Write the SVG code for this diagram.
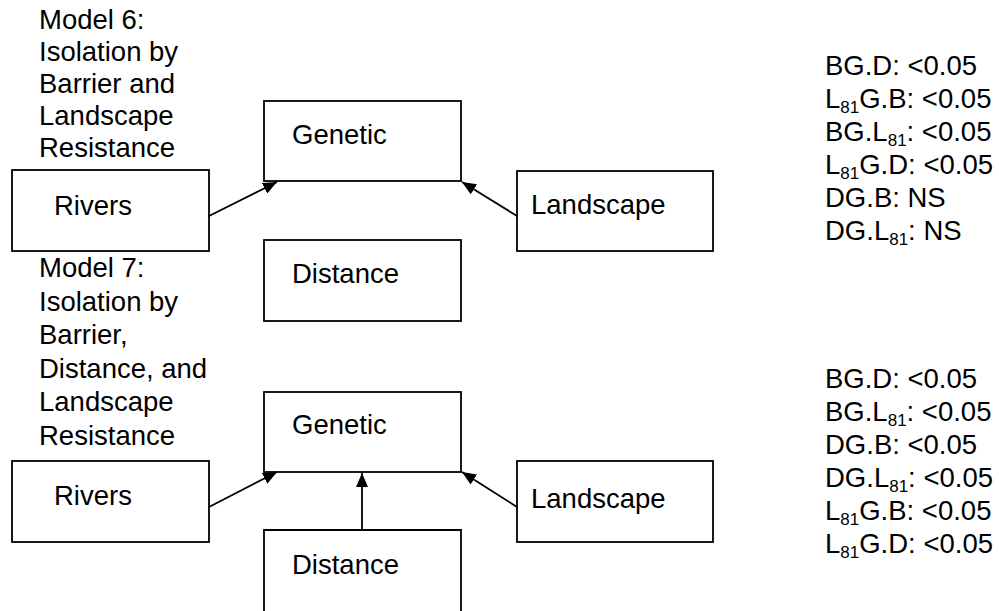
<svg xmlns="http://www.w3.org/2000/svg" width="999" height="611" viewBox="0 0 999 611">
<style>
text{font-family:"Liberation Sans",Arial,sans-serif;font-size:27.5px;fill:#000}
.box{fill:#fff;stroke:#000;stroke-width:1.8}
.con{stroke:#000;stroke-width:1.8;fill:none;marker-end:url(#arr)}
.sub{font-size:17px}
</style>
<defs>
<marker id="arr" viewBox="0 0 14 12" refX="14" refY="6" markerWidth="14" markerHeight="12" markerUnits="userSpaceOnUse" orient="auto">
<path d="M0,0 L14,6 L0,12 z" fill="#000"/>
</marker>
</defs>
<rect width="999" height="611" fill="#fff"/>
<g id="title6">
<text x="39" y="29">Model 6:</text>
<text x="39" y="61">Isolation by</text>
<text x="39" y="93">Barrier and</text>
<text x="39" y="125">Landscape</text>
<text x="39" y="157">Resistance</text>
</g>
<g id="title7">
<text x="39" y="277">Model 7:</text>
<text x="39" y="311">Isolation by</text>
<text x="39" y="344">Barrier,</text>
<text x="39" y="378">Distance, and</text>
<text x="39" y="411">Landscape</text>
<text x="39" y="445">Resistance</text>
</g>
<g id="genetic6"><rect class="box" x="264" y="101" width="197" height="80"/><text x="292" y="144">Genetic</text></g>
<g id="rivers6"><rect class="box" x="12" y="170" width="197" height="81"/><text x="54" y="215">Rivers</text></g>
<g id="landscape6"><rect class="box" x="517" y="171" width="196" height="80"/><text x="531" y="214">Landscape</text></g>
<g id="distance6"><rect class="box" x="264" y="240" width="197" height="81"/><text x="292" y="283">Distance</text></g>
<g id="genetic7"><rect class="box" x="264" y="392" width="197" height="80"/><text x="292" y="434">Genetic</text></g>
<g id="rivers7"><rect class="box" x="12" y="461" width="197" height="81"/><text x="54" y="505">Rivers</text></g>
<g id="landscape7"><rect class="box" x="517" y="461" width="196" height="81"/><text x="531" y="508">Landscape</text></g>
<g id="distance7"><path class="box" d="M264,612 L264,530 L461,530 L461,612"/><text x="292" y="574">Distance</text></g>
<g id="connectors">
<path class="con" d="M209,216 L277,182"/>
<path class="con" d="M517,216 L462,182"/>
<path class="con" d="M209,507 L277,472"/>
<path class="con" d="M362,530 L362,473"/>
<path class="con" d="M517,507 L462,472"/>
</g>
<g id="stats6">
<text x="825" y="75">BG.D: &lt;0.05</text>
<text x="825" y="108">L<tspan class="sub" dy="5">81</tspan><tspan dy="-5">G.B: &lt;0.05</tspan></text>
<text x="825" y="141">BG.L<tspan class="sub" dy="5">81</tspan><tspan dy="-5">: &lt;0.05</tspan></text>
<text x="825" y="174">L<tspan class="sub" dy="5">81</tspan><tspan dy="-5">G.D: &lt;0.05</tspan></text>
<text x="825" y="207">DG.B: NS</text>
<text x="825" y="240">DG.L<tspan class="sub" dy="5">81</tspan><tspan dy="-5">: NS</tspan></text>
</g>
<g id="stats7">
<text x="825" y="388">BG.D: &lt;0.05</text>
<text x="825" y="421">BG.L<tspan class="sub" dy="5">81</tspan><tspan dy="-5">: &lt;0.05</tspan></text>
<text x="825" y="454">DG.B: &lt;0.05</text>
<text x="825" y="487">DG.L<tspan class="sub" dy="5">81</tspan><tspan dy="-5">: &lt;0.05</tspan></text>
<text x="825" y="520">L<tspan class="sub" dy="5">81</tspan><tspan dy="-5">G.B: &lt;0.05</tspan></text>
<text x="825" y="553">L<tspan class="sub" dy="5">81</tspan><tspan dy="-5">G.D: &lt;0.05</tspan></text>
</g>
</svg>
